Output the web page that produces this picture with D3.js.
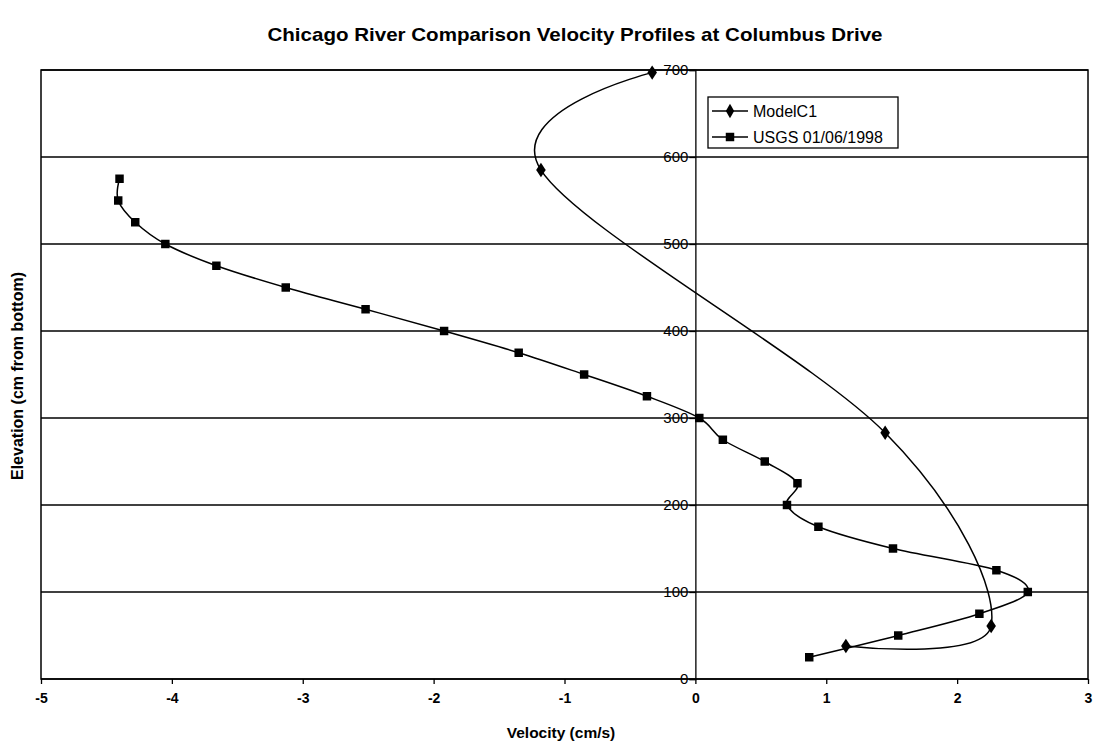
<!DOCTYPE html>
<html>
<head>
<meta charset="utf-8">
<script src="https://cdn.jsdelivr.net/npm/d3@7"></script>
<style>
  body { margin: 0; background: #fff; }
  svg text { font-family: Arial, "Liberation Sans", sans-serif; fill: #000; }
</style>
</head>
<body>
<div id="chart"></div>
<script>
// USGS 01/06/1998 profile
var usgsElev = [575, 550, 525, 500, 475, 450, 425, 400, 375, 350, 325, 300, 275, 250, 225, 200, 175, 150, 125, 100, 75, 50, 25];
var usgsVel  = [-4.40, -4.41, -4.28, -4.05, -3.66, -3.13, -2.52, -1.92, -1.35, -0.85, -0.37, 0.03, 0.21, 0.53, 0.78, 0.70, 0.94, 1.51, 2.30, 2.54, 2.17, 1.55, 0.87];
// ModelC1 profile
var modelElev = [38, 61, 283, 585, 697];
var modelVel  = [1.15, 2.26, 1.45, -1.18, -0.33];

var xTicks = [-5, -4, -3, -2, -1, 0, 1, 2, 3];
var yTicks = [0, 100, 200, 300, 400, 500, 600, 700];

(function() {
  let W = 1093, H = 744;
  let mLeft = 41, mRight = 1088, mTop = 70, mBottom = 679;

  let svg = d3.select("#chart").append("svg").attr("width", W).attr("height", H);

  let x = d3.scaleLinear().domain([-5, 3]).range([mLeft, mRight]);
  let y = d3.scaleLinear().domain([0, 700]).range([mBottom, mTop]);

  //gridlines
  svg.selectAll("line.grid").data(yTicks).enter().append("line")
     .attr("x1", mLeft).attr("x2", mRight)
     .attr("y1", function(d) {return y(d);}).attr("y2", function(d) {return y(d);})
     .attr("stroke", "#000").attr("stroke-width", 1.3);

  //plot border
  svg.append("rect").attr("x", mLeft).attr("y", mTop)
     .attr("width", mRight - mLeft).attr("height", mBottom - mTop)
     .attr("fill", "none").attr("stroke", "#000").attr("stroke-width", 1.5);

  //x axis along the bottom
  let xAxis = svg.append("g").attr("transform", "translate(0," + mBottom + ")")
     .call(d3.axisBottom(x).tickValues(xTicks).tickSize(5).tickPadding(9).tickFormat(function(d) {return String(d);}));
  xAxis.select(".domain").remove();
  xAxis.selectAll("line").attr("stroke-width", 1.3);
  xAxis.selectAll("text").attr("font-size", 14).attr("font-weight", "bold");

  //y axis crosses at zero velocity
  let yAxis = svg.append("g").attr("transform", "translate(" + x(0) + ",0)")
     .call(d3.axisLeft(y).tickValues(yTicks).tickSize(6).tickPadding(1).tickFormat(function(d) {return String(d);}));
  yAxis.select(".domain").attr("stroke-width", 1.3);
  yAxis.selectAll("line").attr("stroke-width", 1.3);
  yAxis.selectAll("text").attr("font-size", 15);

  //series
  let usgs = usgsVel.map(function(v, i) {return [v, usgsElev[i]];});
  let model = modelVel.map(function(v, i) {return [v, modelElev[i]];});

  let line = d3.line().x(function(d) {return x(d[0]);}).y(function(d) {return y(d[1]);})
               .curve(d3.curveCardinal.tension(0));

  svg.append("path").attr("d", line(model)).attr("fill", "none")
     .attr("stroke", "#000").attr("stroke-width", 1.5);
  svg.append("path").attr("d", line(usgs)).attr("fill", "none")
     .attr("stroke", "#000").attr("stroke-width", 1.5);

  let diamond = d3.symbol().type(d3.symbolDiamond).size(60);
  let square = d3.symbol().type(d3.symbolSquare).size(72);

  svg.selectAll("path.model").data(model).enter().append("path")
     .attr("d", diamond)
     .attr("transform", function(d) {return "translate(" + x(d[0]) + "," + y(d[1]) + ") scale(1.15,1)";})
     .attr("fill", "#000");

  svg.selectAll("path.usgs").data(usgs).enter().append("path")
     .attr("d", square)
     .attr("transform", function(d) {return "translate(" + x(d[0]) + "," + y(d[1]) + ")";})
     .attr("fill", "#000");

  //titles
  svg.append("text").attr("x", 575).attr("y", 41).attr("text-anchor", "middle")
     .attr("font-size", 19).attr("font-weight", "bold")
     .attr("textLength", 615).attr("lengthAdjust", "spacingAndGlyphs")
     .text("Chicago River Comparison Velocity Profiles at Columbus Drive");

  svg.append("text").attr("x", 561).attr("y", 738).attr("text-anchor", "middle")
     .attr("font-size", 15.5).attr("font-weight", "bold")
     .text("Velocity (cm/s)");

  svg.append("text").attr("transform", "translate(23,376) rotate(-90)").attr("text-anchor", "middle")
     .attr("font-size", 16).attr("font-weight", "bold")
     .text("Elevation (cm from bottom)");

  //legend
  let legend = svg.append("g");
  legend.append("rect").attr("x", 708).attr("y", 97).attr("width", 190).attr("height", 51)
        .attr("fill", "#fff").attr("stroke", "#000").attr("stroke-width", 1.3);

  let legendItems = [
    {name: "ModelC1", symbol: diamond, y: 111},
    {name: "USGS 01/06/1998", symbol: square, y: 137}
  ];

  legendItems.forEach(function(d) {
    legend.append("line").attr("x1", 712).attr("x2", 748).attr("y1", d.y).attr("y2", d.y)
          .attr("stroke", "#000").attr("stroke-width", 1.5);
    legend.append("path").attr("d", d.symbol).attr("fill", "#000")
          .attr("transform", "translate(730," + d.y + ")");
    legend.append("text").attr("x", 753).attr("y", d.y).attr("dy", "0.35em")
          .attr("font-size", 16).text(d.name);
  });
})();
</script>
</body>
</html>
